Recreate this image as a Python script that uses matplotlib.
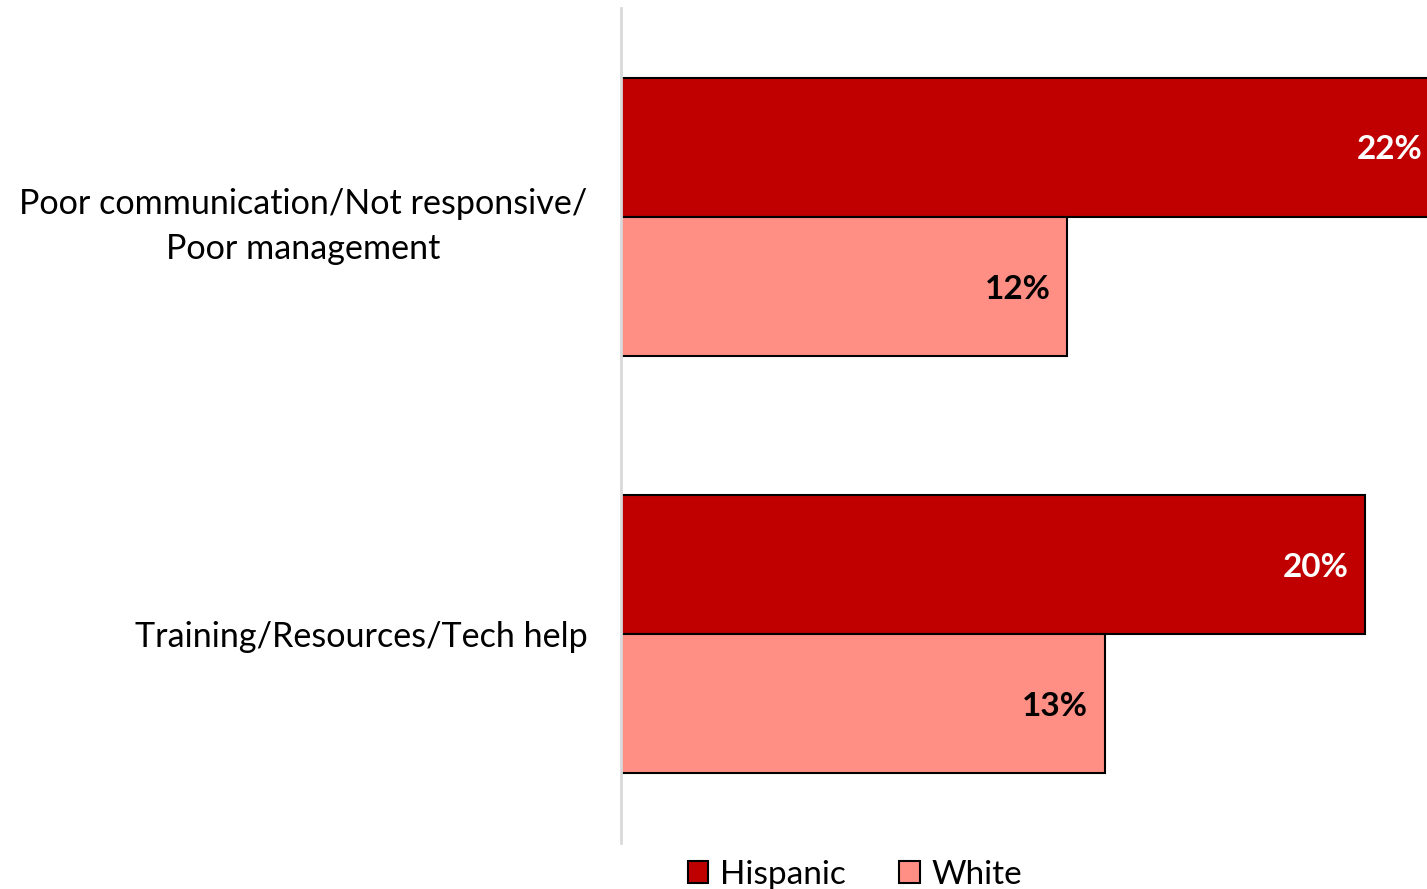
import numpy as np
import matplotlib.pyplot as plt
from matplotlib.patches import Patch

plt.rcParams['font.family'] = ['Lato', 'DejaVu Sans']

# categories top to bottom
categories = ['Poor communication/Not responsive/\nPoor management',
              'Training/Resources/Tech help']
hispanic = [22, 20]
white = [12, 13]

col_hisp = '#C00000'
col_white = '#FF8F85'

fig = plt.figure(figsize=(14.27, 8.89), dpi=100)
ax = fig.add_axes([621 / 1427, 1 - 843 / 889, 1 - 621 / 1427, 835 / 889])

y = np.arange(len(categories))
h = 1 / 3
bars_h = ax.barh(y - h / 2, hispanic, height=h, color=col_hisp,
                 edgecolor='black', linewidth=1.5)
bars_w = ax.barh(y + h / 2, white, height=h, color=col_white,
                 edgecolor='black', linewidth=1.5)

for bars, vals, tc in [(bars_h, hispanic, 'white'), (bars_w, white, 'black')]:
    for b, v in zip(bars, vals):
        ax.annotate('%d%%' % v, (v, b.get_y() + b.get_height() / 2),
                    xytext=(-12, -2), textcoords='offset points',
                    ha='right', va='center', fontsize=24, fontweight='bold',
                    color=tc, annotation_clip=False)

ax.set_xlim(0, 806 / 37.2)
ax.set_ylim(1.5, -0.5)
ax.set_xticks([])
ax.set_yticks(y)
ax.set_yticklabels(categories, fontsize=24.6, multialignment='center',
                   linespacing=1.5)
ax.tick_params(axis='y', length=0, pad=24)
for s in ['top', 'right', 'bottom']:
    ax.spines[s].set_visible(False)
ax.spines['left'].set_color('#D9D9D9')
ax.spines['left'].set_linewidth(2)

handles = [Patch(facecolor=col_hisp, edgecolor='black', linewidth=1.5, label='Hispanic'),
           Patch(facecolor=col_white, edgecolor='black', linewidth=1.5, label='White')]
fig.legend(handles=handles, loc='center', bbox_to_anchor=(855 / 1427, 1 - 875 / 889),
           ncol=2, frameon=False, fontsize=24, handlelength=0.62, handleheight=0.62,
           handletextpad=0.35, columnspacing=1.6)

fig.savefig('out.png', dpi=100)
